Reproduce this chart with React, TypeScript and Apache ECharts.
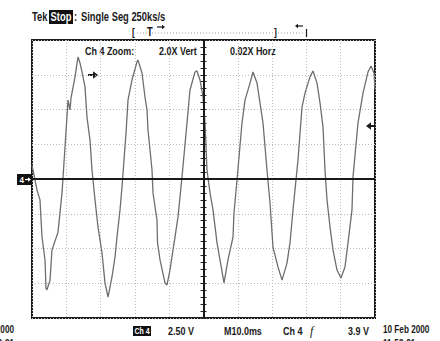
import React, { useEffect, useRef } from "react";
import * as echarts from "echarts";

// Screen divisions: 10 horizontal, 8 vertical (centre = 5, 0)
const timeDiv = [
  0, 0.029, 0.146, 0.233, 0.292, 0.379, 0.408, 0.437, 0.525, 0.583, 0.758, 0.875, 0.962,
  1.05, 1.108, 1.137, 1.254, 1.341, 1.399, 1.458, 1.545, 1.603, 1.691, 1.749, 1.837, 1.924,
  2.041, 2.128, 2.216, 2.332, 2.42, 2.478, 2.566, 2.624, 2.682, 2.741, 2.799, 2.915, 3.061,
  3.09, 3.207, 3.294, 3.353, 3.382, 3.499, 3.528, 3.644, 3.66, 3.732, 3.878, 3.936, 4.023,
  4.111, 4.169, 4.257, 4.373, 4.519, 4.606, 4.752, 4.81, 4.898, 4.985, 5.044, 5.102, 5.19,
  5.277, 5.394, 5.481, 5.598, 5.714, 5.86, 5.889, 5.977, 6.122, 6.21, 6.356, 6.443, 6.56,
  6.647, 6.735, 6.851, 6.939, 7.026, 7.172, 7.289, 7.434, 7.522, 7.609, 7.755, 7.872, 7.959,
  8.105, 8.192, 8.309, 8.397, 8.484, 8.542, 8.601, 8.688, 8.776, 8.892, 9.009, 9.125, 9.213,
  9.329, 9.359, 9.504, 9.65, 9.796, 9.883, 9.971, 10.0,
];
const ampDiv = [
  0.4, 0.26, -0.32, -0.6, -1.67, -2.33, -3.14, -3.19, -2.91, -2.04, -1.53, -0.4, 0.92,
  2.27, 1.99, 2.33, 2.94, 3.51, 3.34, 3.08, 2.65, 1.78, 1.12, 0.26, -0.6, -1.38,
  -2.13, -2.99, -3.4, -2.82, -2.24, -1.67, -0.89, -0.23, 0.55, 1.32, 2.27, 2.85, 3.37,
  3.42, 3.05, 2.36, 1.99, 1.41, 0.26, -0.4, -1.18, -1.84, -2.33, -2.99, -3.05, -2.62,
  -2.04, -1.67, -1.09, 0.06, 1.61, 2.56, 3.08, 3.11, 2.85, 2.36, 1.61, 0.26, -0.4,
  -0.89, -1.84, -2.33, -2.99, -2.33, -1.67, -0.98, -0.03, 1.61, 2.27, 2.76, 3.08, 2.76,
  2.19, 1.61, 0.26, -0.69, -1.96, -2.53, -2.91, -2.42, -1.84, -0.89, 0.55, 2.07, 2.47,
  2.94, 3.11, 2.76, 2.19, 1.5, 0.26, -0.6, -1.38, -2.04, -2.62, -2.85, -2.53, -1.84,
  -0.89, 0.06, 1.61, 2.47, 3.08, 3.25, 3.05, 2.56,
];

const headerStatus = "Stop";
const headerText = "Single Seg 250ks/s";
const zoomLabels = ["Ch 4 Zoom:", "2.0X Vert", "0.02X Horz"];
const footerScale = "2.50 V";
const footerTime = "M10.0ms";
const footerTrigSrc = "Ch 4";
const footerTrigLevel = "3.9 V";
const footerDate = "10 Feb 2000";
const footerClock = "11:52:31";

const FONT = "'Liberation Sans', Arial, sans-serif";
const INK = "#1a1a1a";

export default function App() {
  const ref = useRef<HTMLDivElement>(null);
  useEffect(() => {
    document.body.style.margin = "0";
    const chart = echarts.init(ref.current!, null, { renderer: "svg" });
    const wave = timeDiv.map((t, i) => [t, ampDiv[i]]);
    const txt = (text: string, x: number, y: number, size = 11, extra: any = {}, sx = 0.78) => ({
      type: "text",
      x,
      y,
      scaleX: sx,
      silent: true,
      style: {
        text,
        fill: INK,
        font: `bold ${size}px ${FONT}`,
        verticalAlign: "middle",
        align: "left",
        ...extra,
      },
    });
    const arrow = (x0: number, x1: number, y: number, head: number, w: number, color = INK) => {
      const dir = x1 > x0 ? 1 : -1;
      return {
        type: "group",
        silent: true,
        children: [
          {
            type: "line",
            shape: { x1: x0, y1: y, x2: x1 - dir * head * 0.6, y2: y },
            style: { stroke: color, lineWidth: w },
          },
          {
            type: "polygon",
            shape: {
              points: [
                [x1, y],
                [x1 - dir * head, y - head * 0.75],
                [x1 - dir * head, y + head * 0.75],
              ],
            },
            style: { fill: color },
          },
        ],
      };
    };
    const tickAxis = (inside: boolean) => ({
      type: "value",
      min: -4,
      max: 4,
      interval: 1,
      position: "left",
      offset: -171.5,
      axisLine: { show: false },
      axisLabel: { show: false },
      splitLine: { show: false },
      axisTick: { show: true, inside, length: 3, lineStyle: { color: "#222", width: 1 } },
      minorTick: { show: true, splitNumber: 5, length: 3, lineStyle: { color: "#222", width: 1 } },
    });
    chart.setOption({
      animation: false,
      backgroundColor: "#ffffff",
      grid: {
        left: 32,
        top: 40,
        width: 343,
        height: 278,
        show: true,
        borderColor: INK,
        borderWidth: 2,
        backgroundColor: "transparent",
      },
      xAxis: {
        type: "value",
        min: 0,
        max: 10,
        interval: 1,
        axisLine: { show: false },
        axisTick: { show: false },
        axisLabel: { show: false },
        splitLine: { show: true, lineStyle: { color: "#bcbcbc", type: [1, 2], width: 1 } },
      },
      yAxis: [
        {
          type: "value",
          min: -4,
          max: 4,
          interval: 1,
          axisLine: { show: false },
          axisTick: { show: false },
          axisLabel: { show: false },
          splitLine: { show: true, lineStyle: { color: "#bcbcbc", type: [1, 2], width: 1 } },
        },
        tickAxis(true),
        tickAxis(false),
      ],
      series: [
        {
          type: "line",
          data: wave,
          showSymbol: false,
          symbol: "none",
          lineStyle: { color: "#6e6e6e", width: 1.3 },
          z: 3,
          markLine: {
            silent: true,
            symbol: "none",
            label: { show: false },
            lineStyle: { color: INK, width: 2, type: "solid" },
            data: [{ xAxis: 5 }, { yAxis: 0 }],
          },
        },
      ],
      graphic: [
        txt("Tek", 32, 17, 12),
        { type: "rect", shape: { x: 49, y: 10, width: 24, height: 14 }, style: { fill: "#111" }, silent: true },
        txt(headerStatus, 61, 17, 12, { fill: "#fff", align: "center" }),
        txt(":", 74, 17, 12),
        txt(headerText, 81, 17, 12),
        // record view bar
        {
          type: "line",
          shape: { x1: 137, y1: 33, x2: 305, y2: 33 },
          style: { stroke: "#999", lineWidth: 1, lineDash: [1, 2] },
          silent: true,
        },
        txt("[", 132, 32, 11),
        txt("T", 147, 32, 12),
        arrow(157, 165, 27, 3, 1.2),
        txt("]", 274, 32, 11),
        arrow(303, 295, 26, 3, 1.2),
        { type: "line", shape: { x1: 306.5, y1: 29, x2: 306.5, y2: 37 }, style: { stroke: INK, lineWidth: 1.2 }, silent: true },
        // zoom annotations
        txt(zoomLabels[0], 85, 51, 11.5),
        txt(zoomLabels[1], 159, 51, 11.5),
        txt(zoomLabels[2], 230, 51, 11.5),
        arrow(88, 98, 75, 5, 2),
        arrow(376, 366, 126, 5, 2),
        // channel marker
        { type: "rect", shape: { x: 17, y: 174, width: 15, height: 11 }, style: { fill: "#111" }, silent: true },
        txt("4", 19.5, 179.5, 9, { fill: "#fff" }, 0.9),
        arrow(25, 31, 179.5, 3, 1.2, "#fff"),
        // footer
        { type: "rect", shape: { x: 133, y: 326, width: 18, height: 10 }, style: { fill: "#111" }, silent: true },
        txt("Ch 4", 142, 331.5, 9, { fill: "#fff", align: "center" }),
        txt(footerScale, 168, 331, 11.5),
        txt(footerTime, 224, 331, 11.5),
        txt(footerTrigSrc, 283, 331, 11.5),
        txt("f", 310, 331, 12, { font: `italic 12px 'Liberation Serif', serif` }, 1),
        txt(footerTrigLevel, 348, 331, 11.5),
        txt(footerDate, 383, 329, 10.5),
        txt(footerClock, 383, 343, 10.5),
        txt(footerDate, 14, 329, 10.5, { align: "right" }),
        txt(footerClock, 14, 343, 10.5, { align: "right" }),
      ],
    });
    return () => chart.dispose();
  }, []);
  return (
    <div
      ref={ref}
      style={{ position: "fixed", left: 0, top: 0, width: 440, height: 341 }}
    />
  );
}
